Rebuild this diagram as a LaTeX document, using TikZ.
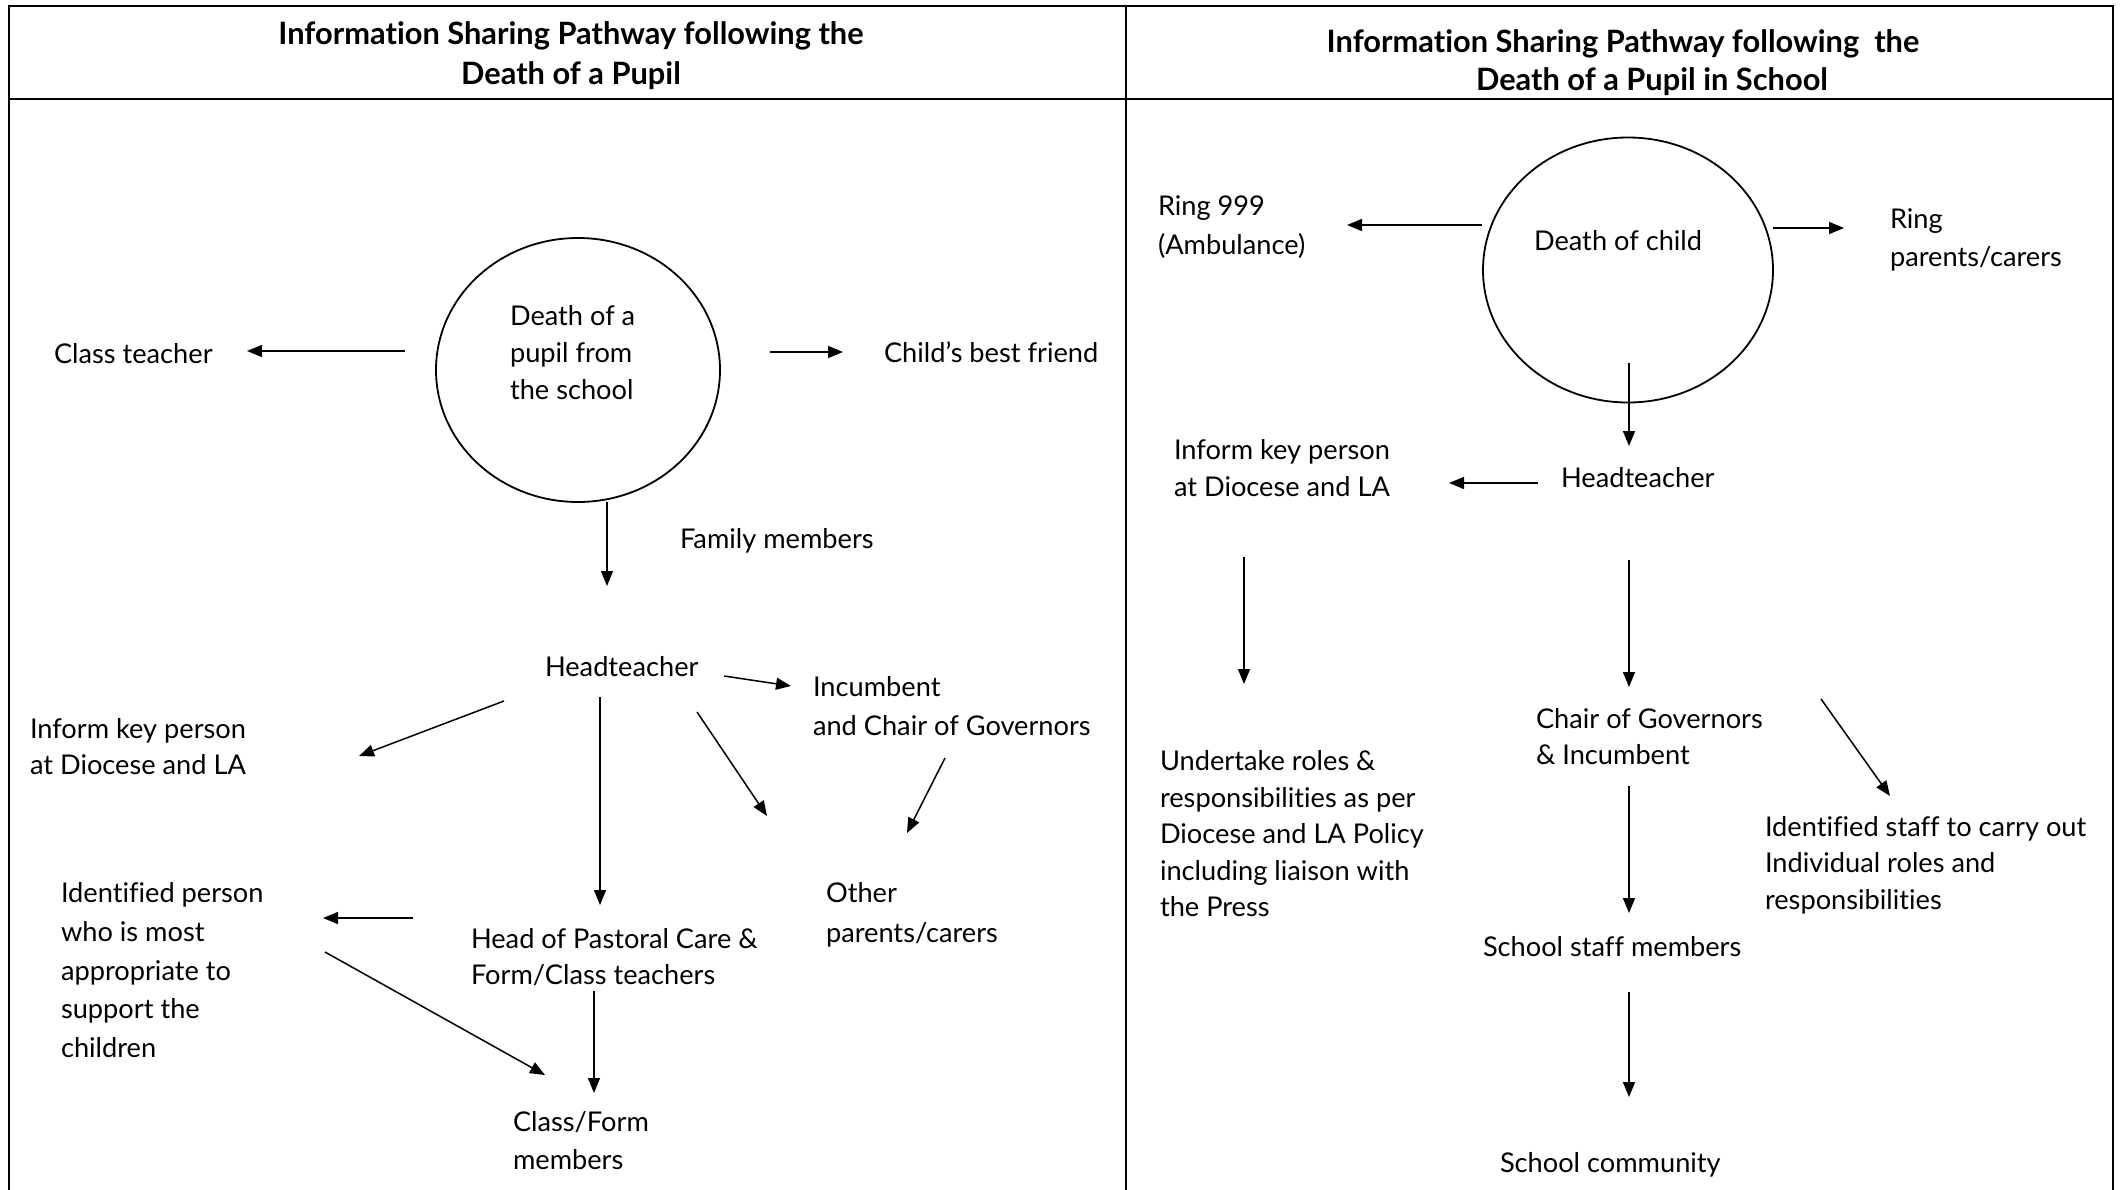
\documentclass[tikz,border=0pt]{standalone}
\usepackage{fontspec}
\setmainfont{Lato}[Ligatures=CommonOff]
\usetikzlibrary{arrows.meta,shapes.geometric}
\newcommand{\tf}[1]{\fontsize{27.2}{#1}\selectfont}
\newcommand{\hf}[1]{\fontsize{30.8}{#1}\selectfont}
\tikzset{
  frame/.style={line width=2.6pt},
  txt/.style={anchor=north west, inner sep=0pt, outer sep=0pt, align=left, font=\tf{37}},
  hdr/.style={anchor=north, inner sep=0pt, outer sep=0pt, align=center},
  oval/.style={draw, ellipse, line width=1.8pt, inner sep=0pt},
  arr/.style={line width=1.5pt, -{Triangle[length=15pt,width=12pt]}}
}
\begin{document}
\begin{tikzpicture}[x=1pt,y=-1pt]
\useasboundingbox (0,0) rectangle (2123,1190);
% frame
\draw[frame] (9,1190) -- (9,6) -- (2113,6) -- (2113,1190);
\draw[frame] (9,99) -- (2113,99);
\draw[frame] (1126,6) -- (1126,1190);
% headers
\node[hdr, font=\bfseries\hf{40}] (hl) at (571,22) {Information Sharing Pathway following the\\Death of a Pupil};
\node[hdr, font=\bfseries\hf{38}] (hr) at (1623,30) {Information Sharing Pathway following\ \ the\\\hspace*{58pt}Death of a Pupil in School};
% ---------- left panel ----------
\node[oval, minimum width=284pt, minimum height=264pt] (c1) at (578,370) {};
\node[txt] (d1) at (510,305) {Death of a\\pupil from\\the school};
\node[txt] (ct) at (54,343) {Class teacher};
\node[txt] (bf) at (884,342) {Child’s best friend};
\node[txt] (fm) at (680,528) {Family members};
\node[txt] (ht1) at (545,656.5) {Headteacher};
\node[txt, font=\tf{38.5}] (inc) at (813,676.5) {Incumbent\\and Chair of Governors};
\node[txt, font=\tf{35.5}] (ik1) at (30,718.5) {Inform key person\\at Diocese and LA};
\node[txt, font=\tf{39.5}] (oth) at (826,882.5) {Other\\parents/carers};
\node[txt, font=\tf{38.75}] (idp) at (61,882.5) {Identified person\\who is most\\appropriate to\\support the\\children};
\node[txt, font=\tf{36}] (hpc) at (471,928.5) {Head of Pastoral Care \&\\Form/Class teachers};
\node[txt, font=\tf{38}] (cfm) at (513,1111.5) {Class/Form\\members};
\draw[arr] ([shift={(-30,-19)}]c1.west) -- ([shift={(193,8)}]ct.north west);
\draw[arr] ([shift={(49,-18)}]c1.east) -- ([shift={(-41,10)}]bf.north west);
\draw[arr] ([shift={(29,-1)}]c1.south) -- ([shift={(62,-70.5)}]ht1.north west);
\draw[arr] ([shift={(179,19.5)}]ht1.north west) -- ([shift={(-22,9.5)}]inc.north west);
\draw[arr] ([shift={(-41,44.5)}]ht1.north west) -- ([shift={(329,37.5)}]ik1.north west);
\draw[arr] ([shift={(55,40.5)}]ht1.north west) -- ([shift={(129,-23.5)}]hpc.north west);
\draw[arr] ([shift={(152,55.5)}]ht1.north west) -- ([shift={(-59,-66.5)}]oth.north west);
\draw[arr] ([shift={(132,81.5)}]inc.north west) -- ([shift={(81,-49.5)}]oth.north west);
\draw[arr] ([shift={(-58,-10.5)}]hpc.north west) -- ([shift={(262,35.5)}]idp.north west);
\draw[arr] ([shift={(264,69.5)}]idp.north west) -- ([shift={(32,-36.5)}]cfm.north west);
\draw[arr] ([shift={(123,62.5)}]hpc.north west) -- ([shift={(81,-18.5)}]cfm.north west);
% ---------- right panel ----------
\node[oval, minimum width=290pt, minimum height=265pt] (c2) at (1628,270) {};
\node[txt] (dc) at (1534,230) {Death of child};
\node[txt, font=\tf{39}] (r999) at (1158,196) {Ring 999\\(Ambulance)};
\node[txt, font=\tf{38}] (rp) at (1890,209) {Ring\\parents/carers};
\node[txt] (ht2) at (1561,467) {Headteacher};
\node[txt] (ik2) at (1174,439) {Inform key person\\at Diocese and LA};
\node[txt, font=\tf{36.6}] (ut) at (1160,750.5) {Undertake roles \&\\responsibilities as per\\Diocese and LA Policy\\including liaison with\\the Press};
\node[txt, font=\tf{36}] (cg) at (1536,708) {Chair of Governors\\\& Incumbent};
\node[txt, font=\tf{36.5}] (ids) at (1765,816) {Identified staff to carry out\\Individual roles and\\responsibilities};
\node[txt] (ssm) at (1483,936) {School staff members};
\node[txt] (sc) at (1500,1152) {School community};
\draw[arr] ([shift={(0,-45)}]c2.west) -- ([shift={(189,29)}]r999.north west);
\draw[arr] ([shift={(-1,-42)}]c2.east) -- ([shift={(-46,19)}]rp.north west);
\draw[arr] ([shift={(1,93)}]c2.center) -- ([shift={(68,-21)}]ht2.north west);
\draw[arr] ([shift={(-23,16)}]ht2.north west) -- ([shift={(275,44)}]ik2.north west);
\draw[arr] ([shift={(70,118)}]ik2.north west) -- ([shift={(84,-66.5)}]ut.north west);
\draw[arr] ([shift={(68,93)}]ht2.north west) -- ([shift={(93,-21)}]cg.north west);
\draw[arr] ([shift={(285,-9)}]cg.north west) -- ([shift={(125,-20)}]ids.north west);
\draw[arr] ([shift={(93,78)}]cg.north west) -- ([shift={(146,-23)}]ssm.north west);
\draw[arr] ([shift={(146,56)}]ssm.north west) -- ([shift={(129,-55)}]sc.north west);
\end{tikzpicture}
\end{document}
